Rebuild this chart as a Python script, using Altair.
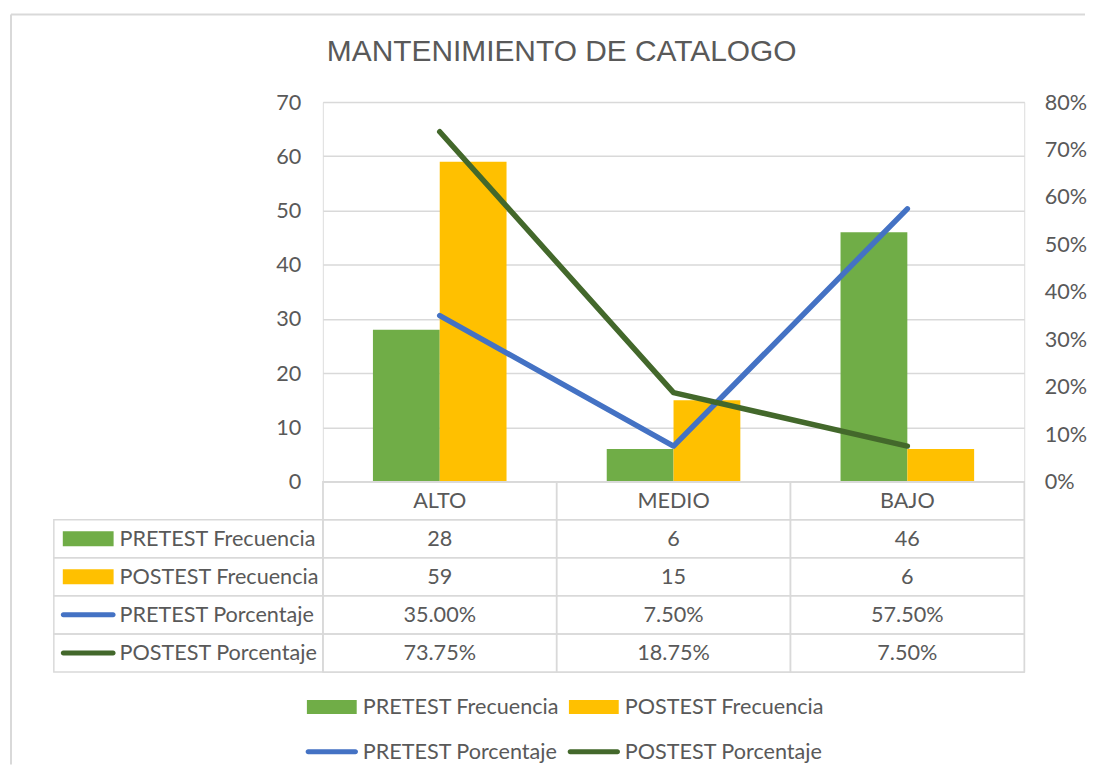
import altair as alt
import pandas as pd

# ---- data -----------------------------------------------------------
categories = ["ALTO", "MEDIO", "BAJO"]
series = ["PRETEST Frecuencia", "POSTEST Frecuencia",
          "PRETEST Porcentaje", "POSTEST Porcentaje"]
pretest_frecuencia = [28, 6, 46]
postest_frecuencia = [59, 15, 6]
pretest_porcentaje = [0.35, 0.075, 0.575]
postest_porcentaje = [0.7375, 0.1875, 0.075]
left_ticks = [0, 10, 20, 30, 40, 50, 60, 70]
right_ticks = [0, 0.1, 0.2, 0.3, 0.4, 0.5, 0.6, 0.7, 0.8]
title_text = "MANTENIMIENTO DE CATALOGO"

# ---- style ----------------------------------------------------------
colors = ["#70AD47", "#FFC000", "#4472C4", "#43682B"]
TXT = "#595959"
GRID = "#D9D9D9"
FONT = "Lato"
FS = 21.7
W, H = 704, 381
TH = 191

rect_path = "M-1,-0.28L1,-0.28L1,0.28L-1,0.28Z"
line_path = ("M-0.95,-0.1L0.95,-0.1A0.1,0.1 0 0 1 0.95,0.1"
             "L-0.95,0.1A0.1,0.1 0 0 1 -0.95,-0.1Z")

# ---- tables ---------------------------------------------------------
bars_df = pd.DataFrame(
    [{"cat": c, "serie": series[0], "value": v} for c, v in zip(categories, pretest_frecuencia)]
    + [{"cat": c, "serie": series[1], "value": v} for c, v in zip(categories, postest_frecuencia)]
)
lines_df = pd.DataFrame(
    [{"cat": c, "serie": series[2], "value": v} for c, v in zip(categories, pretest_porcentaje)]
    + [{"cat": c, "serie": series[3], "value": v} for c, v in zip(categories, postest_porcentaje)]
)

row_keys = ["hdr"] + series
cells = []
for c in categories:
    cells.append({"row": "hdr", "cat": c, "text": c})
for c, v in zip(categories, pretest_frecuencia):
    cells.append({"row": series[0], "cat": c, "text": str(v)})
for c, v in zip(categories, postest_frecuencia):
    cells.append({"row": series[1], "cat": c, "text": str(v)})
for c, v in zip(categories, pretest_porcentaje):
    cells.append({"row": series[2], "cat": c, "text": f"{v*100:.2f}%"})
for c, v in zip(categories, postest_porcentaje):
    cells.append({"row": series[3], "cat": c, "text": f"{v*100:.2f}%"})
cells_df = pd.DataFrame(cells)
labels_df = pd.DataFrame({"row": series, "label": series})
one_df = pd.DataFrame({"k": [0]})

color_scale = alt.Scale(domain=series, range=colors)
shape_scale = alt.Scale(domain=series, range=[rect_path, rect_path, line_path, line_path])
x_scale = alt.Scale(domain=categories, paddingInner=0, paddingOuter=0)

legend_def = alt.Legend(
    title=None, orient="none", legendX=-16, legendY=582,
    direction="horizontal", columns=2, symbolSize=2500,
    labelFont=FONT, labelFontSize=FS, labelColor=TXT, labelOffset=6,
    columnPadding=7, rowPadding=8, symbolOpacity=1, symbolStrokeWidth=0,
    padding=0, labelLimit=0,
)

# ---- main chart -----------------------------------------------------
x_enc = alt.X("cat:N", sort=categories, scale=x_scale, axis=None)

left_axis = alt.Axis(values=left_ticks, grid=True, gridColor=GRID, gridWidth=1.5,
                     domain=False, ticks=False, labelPadding=22, labelFont=FONT,
                     labelFontSize=FS, labelColor=TXT, title=None)
right_axis = alt.Axis(orient="right", values=right_ticks, format=".0%", grid=False,
                      domain=False, ticks=False, labelPadding=20, labelFont=FONT,
                      labelFontSize=FS, labelColor=TXT, title=None)

bars = alt.Chart(bars_df).mark_bar().encode(
    x=x_enc,
    xOffset=alt.XOffset("serie:N", scale=alt.Scale(domain=series[:2], paddingInner=0, paddingOuter=0.75)),
    y=alt.Y("value:Q", scale=alt.Scale(domain=[0, 70], nice=False), axis=left_axis),
    color=alt.Color("serie:N", scale=color_scale, legend=legend_def),
)

y_right = alt.Y("value:Q", scale=alt.Scale(domain=[0, 0.8], nice=False), axis=right_axis)
lines = alt.Chart(lines_df).mark_line(strokeWidth=5.5, strokeCap="round", strokeJoin="round").encode(
    x=x_enc, y=y_right,
    color=alt.Color("serie:N", scale=color_scale, legend=legend_def),
)
legend_pts = alt.Chart(lines_df).mark_point(filled=True, opacity=0, size=10).encode(
    x=x_enc, y=y_right,
    color=alt.Color("serie:N", scale=color_scale, legend=legend_def),
    shape=alt.Shape("serie:N", scale=shape_scale, legend=legend_def),
)

main = alt.layer(
    bars, alt.layer(lines, legend_pts)
).resolve_scale(y="independent").properties(
    width=W, height=H,
    title=alt.Title(title_text, font="Liberation Sans", fontSize=30, color=TXT,
                    fontWeight="normal", anchor="start", frame="group", dx=4, offset=25),
)

# ---- data table -----------------------------------------------------
ty = alt.Y("row:N", scale=alt.Scale(domain=row_keys, paddingInner=0, paddingOuter=0), axis=None)
tx = alt.X("cat:N", sort=categories, scale=x_scale, axis=None)

border_v = alt.Chart(one_df).mark_rule(color=GRID, strokeWidth=2).encode(
    x=alt.value(-313), y=alt.value(-469), y2=alt.value(284))
border_h = alt.Chart(one_df).mark_rule(color=GRID, strokeWidth=2).encode(
    x=alt.value(-313), x2=alt.value(765), y=alt.value(-469))

cell_rects = alt.Chart(cells_df).mark_rect(fill="transparent", stroke=GRID, strokeWidth=1.5).encode(
    x=tx, y=ty)
label_rects = alt.Chart(labels_df).mark_rect(fill="transparent", stroke=GRID, strokeWidth=1.5).encode(
    x=alt.value(-270), x2=alt.value(0), y=ty)
cell_text = alt.Chart(cells_df).mark_text(font=FONT, fontSize=FS, color=TXT).encode(
    x=tx, y=ty, text="text:N")
label_text = alt.Chart(labels_df).mark_text(font=FONT, fontSize=FS, color=TXT, align="left").encode(
    x=alt.value(-204), y=ty, text="label:N")
swatch_bar = alt.Chart(labels_df[labels_df["row"].isin(series[:2])]).mark_tick(
    orient="horizontal", size=51, thickness=15, opacity=1).encode(
    x=alt.value(-235.5), y=ty,
    fill=alt.Fill("row:N", scale=color_scale, legend=None))
swatch_line = alt.Chart(labels_df[labels_df["row"].isin(series[2:])]).mark_tick(
    orient="horizontal", size=55, thickness=5, cornerRadius=2.5, opacity=1).encode(
    x=alt.value(-235.5), y=ty,
    fill=alt.Fill("row:N", scale=color_scale, legend=None))

table = alt.layer(border_v, border_h, cell_rects, label_rects, swatch_bar, swatch_line,
                  cell_text, label_text).properties(width=W, height=TH)

chart = alt.vconcat(main, table, spacing=0, bounds="flush").resolve_scale(
    x="independent", y="independent"
).properties(
    padding={"left": 1, "top": 3, "right": 0, "bottom": 0}
).configure_view(strokeWidth=0).configure(background="white")

chart.save("out.html", embed_options={"renderer": "svg", "actions": False})
